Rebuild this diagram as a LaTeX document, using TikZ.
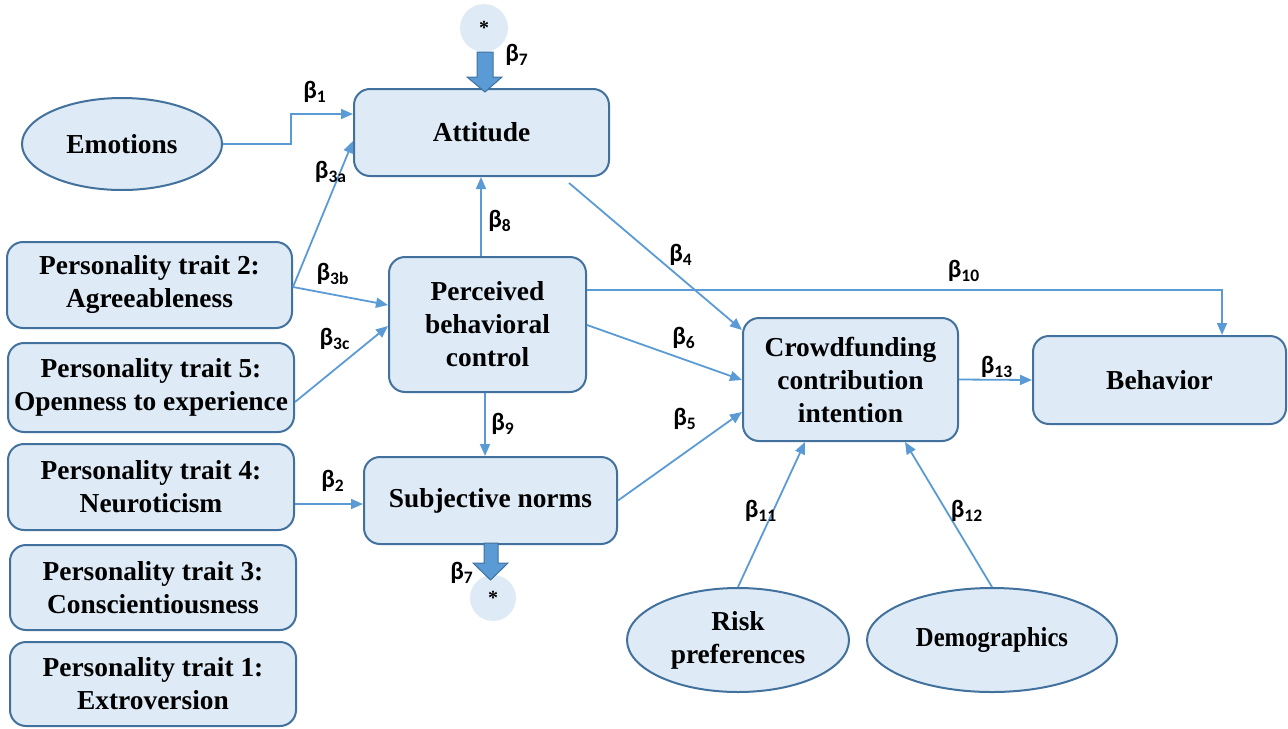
\documentclass[tikz,border=0pt]{standalone}
\usepackage{graphicx}
\usepackage{fontspec}
\setmainfont{Liberation Serif}
\newfontfamily\betafont{Carlito}
\usetikzlibrary{arrows.meta,shapes.geometric,calc}
\definecolor{boxfill}{HTML}{DEEBF7}
\definecolor{boxline}{HTML}{41719C}
\definecolor{linkblue}{HTML}{5B9BD5}
\newcommand\coef[1]{{\betafont\bfseries β\textsubscript{#1}}}

\begin{document}
\begin{tikzpicture}[x=0.5pt,y=-0.5pt,
  box/.style={draw=boxline, line width=1pt, fill=boxfill, rounded corners=8pt,
    align=center, font=\fontsize{13.7}{16.5}\selectfont\bfseries, inner sep=0pt},
  oval/.style={ellipse, draw=boxline, line width=1pt, fill=boxfill,
    align=center, font=\fontsize{13.7}{16.5}\selectfont\bfseries, inner sep=0pt},
  starnode/.style={circle, fill=boxfill, inner sep=0pt,
    font=\fontsize{10}{12}\selectfont\bfseries},
  conn/.style={draw=linkblue, line width=0.9pt, -{Triangle[length=6pt,width=5pt]}},
  coeflabel/.style={font=\fontsize{12.5}{14}\selectfont, inner sep=0pt},
  bigarrow/.style={fill=linkblue, draw=boxline, line width=0.5pt}
]
\path[use as bounding box] (0,0) rectangle (1288,728);

% latent constructs
\node[box, minimum width=127.5pt, minimum height=43.5pt] (att) at (481.5,132.5) {Attitude};
\node[box, minimum width=98.5pt, minimum height=67.5pt] (pbc) at (487.5,324.5) {Perceived\\behavioral\\control};
\node[box, minimum width=126.5pt, minimum height=43.5pt] (sn) at (490.5,500.5) {Subjective norms};
\node[box, minimum width=107.5pt, minimum height=61.5pt] (cci) at (850.5,379.5) {Crowdfunding\\contribution\\intention};
\node[box, minimum width=126.5pt, minimum height=44pt] (beh) at (1159.5,380) {Behavior};

% personality traits
\node[box, minimum width=142.5pt, minimum height=43pt] (pt2) at (149.5,285) {Personality trait 2:\\Agreeableness};
\node[box, minimum width=143pt, minimum height=44.5pt] (pt5) at (151,387.5) {Personality trait 5:\\Openness to experience};
\node[box, minimum width=143pt, minimum height=43pt] (pt4) at (151,487) {Personality trait 4:\\Neuroticism};
\node[box, minimum width=143pt, minimum height=42.5pt] (pt3) at (153,587.5) {Personality trait 3:\\Conscientiousness};
\node[box, minimum width=143pt, minimum height=42pt] (pt1) at (153,684) {Personality trait 1:\\Extroversion};

% exogenous ovals
\node[oval, minimum width=100pt, minimum height=46pt] (emo) at (122,144) {Emotions};
\node[oval, minimum width=111pt, minimum height=52pt] (risk) at (738,640) {Risk\\preferences};
\node[oval, minimum width=125pt, minimum height=52pt] (demo) at (992,640) {\scalebox{0.9}[1]{Demographics}};

% interaction markers
\node[starnode, minimum size=24pt] (startop) at (484,28) {*};
\node[starnode, minimum size=23pt] (starbot) at (493,598) {*};

% block arrows for the interaction effect
\path[bigarrow] (477,52) -- (493,52) -- (493,77) -- (502,77) -- (485,92)
  -- (467,77) -- (477,77) -- cycle;
\path[bigarrow] (484,543) -- (498,543) -- (498,563) -- (508,563) -- (490.5,580)
  -- (473,563) -- (484,563) -- cycle;

% paths
\draw[conn] (emo.east) -- ++(68,0) |- (att.west |- 0,114);
\draw[conn] (pt2.east |- 0,287) -- (att.west |- 0,141);
\draw[conn] (pt2.east |- 0,287) -- (pbc.west |- 0,305);
\draw[conn] (pt5.east |- 0,402) -- (pbc.west |- 0,326);
\draw[conn] (pbc.north -| 481,0) -- (att.south -| 481,0);
\draw[conn] (att.south -| 569,0) ++(0,6) -- (cci.west |- 0,330);
\draw[conn] (pbc.east |- 0,290) -| (beh.north -| 1222,0);
\draw[conn] (pbc.east |- 0,325) -- (cci.west |- 0,380);
\draw[conn] (pbc.south -| 485,0) -- (sn.north -| 485,0);
\draw[conn] (pt4.east |- 0,504) -- (sn.west |- 0,504);
\draw[conn] (sn.east) -- (cci.west |- 0,412);
\draw[conn] (cci.east) -- (beh.west);
\draw[conn] (risk.north) -- (cci.south -| 805,0);
\draw[conn] (demo.north) -- (cci.south -| 905,0);

% path coefficients
\node[coeflabel] (b7t) at (517,55) {\coef{7}};
\node[coeflabel] (b1) at (315,92) {\coef{1}};
\node[coeflabel] (b3a) at (331,172) {\coef{3a}};
\node[coeflabel] (b3b) at (333,274) {\coef{3b}};
\node[coeflabel] (b3c) at (335,339) {\coef{3c}};
\node[coeflabel] (b8) at (500,221) {\coef{8}};
\node[coeflabel] (b4) at (681,255) {\coef{4}};
\node[coeflabel] (b10) at (964,271) {\coef{10}};
\node[coeflabel] (b6) at (684,338) {\coef{6}};
\node[coeflabel] (b9) at (503,424) {\coef{9}};
\node[coeflabel] (b2) at (333,481) {\coef{2}};
\node[coeflabel] (b5) at (685,419) {\coef{5}};
\node[coeflabel] (b13) at (997,367) {\coef{13}};
\node[coeflabel] (b11) at (761,511) {\coef{11}};
\node[coeflabel] (b12) at (967,511) {\coef{12}};
\node[coeflabel] (b7b) at (462,573) {\coef{7}};
\end{tikzpicture}
\end{document}
